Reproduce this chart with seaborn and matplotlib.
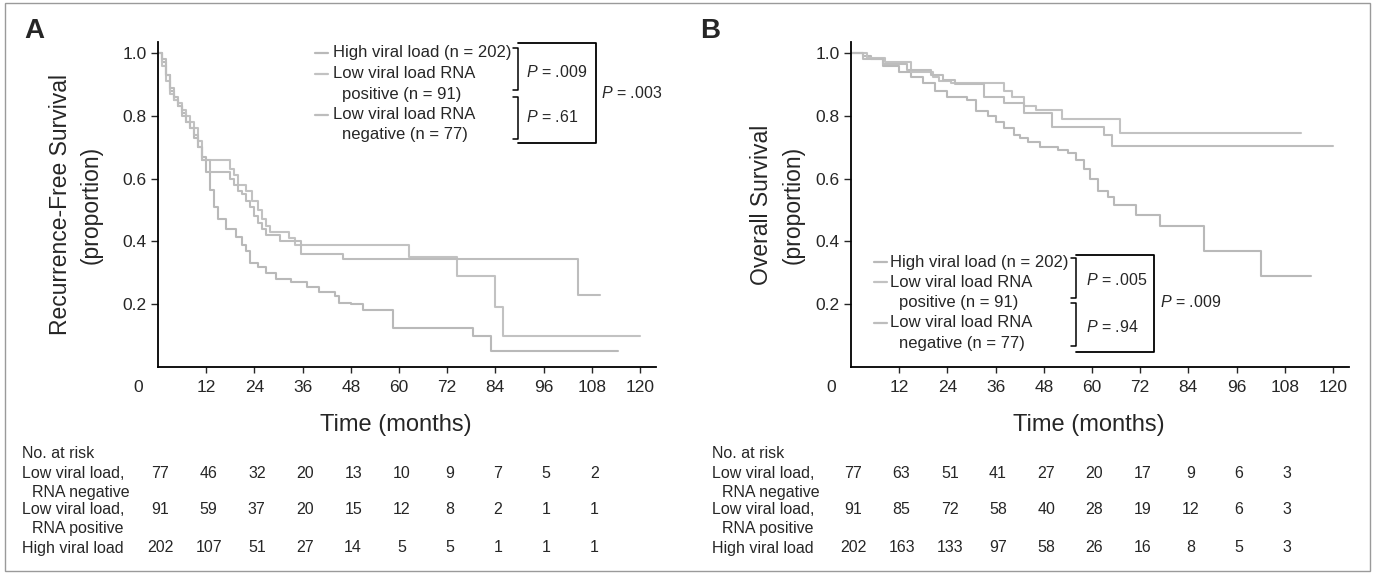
import pandas as pd
import matplotlib.pyplot as plt
import seaborn as sns
from matplotlib.lines import Line2D
from matplotlib.patches import Rectangle
from matplotlib import transforms

# Kaplan-Meier steps: month where the step starts, survival after it
groups = ['High viral load', 'Low viral load RNA positive', 'Low viral load RNA negative']

# A: recurrence-free survival
rfs_high_t = [0, 1, 2, 3, 4, 5, 6, 7, 8, 9, 10, 11, 12, 13, 14, 15, 17, 19.5, 21, 22, 23, 25, 27, 29.5,
              33, 37, 40, 44, 45, 48, 51, 58.5, 78.5, 83, 114.5]
rfs_high_s = [1.0, 0.97, 0.93, 0.88, 0.85, 0.83, 0.81, 0.78, 0.76, 0.73, 0.70, 0.67, 0.62, 0.565, 0.51, 0.47,
              0.44, 0.415, 0.39, 0.37, 0.33, 0.32, 0.30, 0.28, 0.27, 0.255, 0.24, 0.225, 0.205, 0.20, 0.18,
              0.125, 0.10, 0.05, 0.05]
rfs_pos_t = [0, 1, 2, 3, 4, 5, 6, 7, 8, 9, 10, 11, 18, 19, 20, 22, 23.5, 25, 26, 27, 28, 32.5, 34,
             62.5, 74.5, 84, 86, 120]
rfs_pos_s = [1.0, 0.96, 0.91, 0.87, 0.85, 0.84, 0.82, 0.80, 0.78, 0.76, 0.72, 0.66, 0.63, 0.61, 0.58, 0.56,
             0.53, 0.50, 0.47, 0.45, 0.43, 0.41, 0.39, 0.35, 0.29, 0.19, 0.10, 0.10]
rfs_neg_t = [0, 1, 2, 3, 4, 5, 6, 7, 8, 9, 10, 11, 13, 18, 19, 20, 21, 22, 23, 24, 25, 26, 27, 30.5,
             35.5, 46, 104.5, 110]
rfs_neg_s = [1.0, 0.98, 0.93, 0.89, 0.86, 0.83, 0.80, 0.78, 0.76, 0.74, 0.70, 0.66, 0.62, 0.60, 0.58, 0.56,
             0.55, 0.53, 0.51, 0.48, 0.46, 0.44, 0.42, 0.40, 0.36, 0.345, 0.23, 0.23]

# B: overall survival
os_high_t = [0, 3, 5, 8, 12, 15, 18, 21, 24, 29, 31, 34, 36, 38, 40.5, 42, 44, 47, 51.5, 54, 56, 58,
             59.5, 61.5, 64, 65.5, 71, 77, 88, 102, 114.5]
os_high_s = [1.0, 0.99, 0.98, 0.96, 0.94, 0.925, 0.905, 0.88, 0.86, 0.85, 0.815, 0.80, 0.78, 0.76, 0.74,
             0.73, 0.715, 0.70, 0.69, 0.68, 0.66, 0.63, 0.60, 0.56, 0.54, 0.515, 0.485, 0.45, 0.37, 0.29, 0.29]
os_pos_t = [0, 4, 8.5, 15, 20.5, 22, 25, 38, 40, 43, 46, 52.5, 67, 112]
os_pos_s = [1.0, 0.985, 0.97, 0.94, 0.925, 0.91, 0.905, 0.88, 0.86, 0.83, 0.82, 0.79, 0.745, 0.745]
os_neg_t = [0, 3, 8, 14, 20, 23, 26, 33, 38, 43, 50, 63, 65, 120]
os_neg_s = [1.0, 0.98, 0.965, 0.945, 0.93, 0.915, 0.90, 0.86, 0.84, 0.81, 0.765, 0.74, 0.705, 0.705]

key_labels = [['High viral load (n = 202)'],
              ['Low viral load RNA', 'positive (n = 91)'],
              ['Low viral load RNA', 'negative (n = 77)']]
pvals_a = ['.009', '.61', '.003']
pvals_b = ['.005', '.94', '.009']

month_ticks = [12, 24, 36, 48, 60, 72, 84, 96, 108, 120]
surv_ticks = [0.2, 0.4, 0.6, 0.8, 1.0]

# numbers at risk, one column per 12 months
risk_months = [0, 12, 24, 36, 48, 60, 72, 84, 96, 108]
risk_labels = [['Low viral load,', 'RNA negative'], ['Low viral load,', 'RNA positive'], ['High viral load']]
risk_a_neg = [77, 46, 32, 20, 13, 10, 9, 7, 5, 2]
risk_a_pos = [91, 59, 37, 20, 15, 12, 8, 2, 1, 1]
risk_a_high = [202, 107, 51, 27, 14, 5, 5, 1, 1, 1]
risk_b_neg = [77, 63, 51, 41, 27, 20, 17, 9, 6, 3]
risk_b_pos = [91, 85, 72, 58, 40, 28, 19, 12, 6, 3]
risk_b_high = [202, 163, 133, 97, 58, 26, 16, 8, 5, 3]

# layout, in pixels of the 1375x574 picture
W, H = 1375, 574
GRAY = ['#b9b9b9', '#c2c2c2', '#bdbdbd']
NARROW = ['Liberation Sans Narrow', 'Liberation Sans', 'DejaVu Sans']


def fx(x):
    return x / W


def fy(y):
    return 1 - y / H


def curve_frame(times, survs):
    parts = [pd.DataFrame({'month': t, 'surv': s, 'group': g}) for g, t, s in zip(groups, times, survs)]
    return pd.concat(parts, ignore_index=True)


def draw_curves(ax, df, ylabel, label_x):
    sns.lineplot(data=df, x='month', y='surv', hue='group', palette=dict(zip(groups, GRAY)),
                 estimator=None, drawstyle='steps-post', linewidth=1.5, legend=False, ax=ax)
    ax.set_xlim(0, 124)
    ax.set_ylim(0, 1.035)
    ax.set_xticks(month_ticks)
    ax.set_yticks(surv_ticks)
    ax.set_yticklabels([f'{v:.1f}' for v in surv_ticks])
    sns.despine(ax=ax)
    for sp in ax.spines.values():
        sp.set_linewidth(1.3)
        sp.set_color('black')
    ax.tick_params(axis='x', direction='out', length=4, width=1, pad=5, labelsize=12.5)
    ax.tick_params(axis='y', direction='out', length=5, width=1, pad=3, labelsize=12.5)
    for lab in ax.get_xticklabels() + ax.get_yticklabels():
        lab.set_family(NARROW)
    # the 0 sits left of the corner, as in the print
    ax.annotate('0', xy=(0, 0), xycoords='data', xytext=(-20, -20), textcoords='offset pixels',
                ha='center', va='center', fontsize=12.5, family=NARROW)
    ax.set_xlabel('Time (months)', fontsize=17, family=NARROW)
    ax.xaxis.set_label_coords(0.478, -0.178)
    ax.xaxis.label.set_va('center')
    ax.set_ylabel(ylabel, fontsize=16.5, family=NARROW, linespacing=1.45)
    ax.yaxis.set_label_coords(label_x, 0.5)
    ax.yaxis.label.set_va('center')


def line(fig, xs, ys, **kw):
    fig.add_artist(Line2D([fx(v) for v in xs], [fy(v) for v in ys], transform=fig.transFigure, **kw))


def draw_key(fig, hx, tx, indent, y0, step, bx, box, br1, br2, pvals, ppos):
    row = 0
    for labels, col in zip(key_labels, GRAY):
        y = y0 + row * step
        line(fig, [hx, hx + 13], [y, y], color=col, lw=1.6)
        for k, txt in enumerate(labels):
            fig.text(fx(tx + (indent if k else 0)), fy(y + k * step), txt, fontsize=12, va='center')
        row += len(labels)
    for top, bot in (br1, br2):
        line(fig, [bx - 5, bx, bx, bx - 5], [top, top, bot, bot], color='black', lw=1.1)
    line(fig, [bx, box[0], box[0], bx], [box[1], box[1], box[2], box[2]], color='black', lw=1.3)
    for p, (x, y) in zip(pvals, ppos):
        fig.text(fx(x), fy(y), f'$P$ = {p}', fontsize=11.5, va='center')


def draw_risk(fig, ax, x_lab, rows_y, counts):
    # numbers sit under the month ticks of their panel
    trans = transforms.blended_transform_factory(ax.transData, fig.transFigure)
    fig.text(fx(x_lab), fy(rows_y[0]), 'No. at risk', fontsize=11.5, va='center')
    for i, (labels, vals) in enumerate(zip(risk_labels, counts)):
        y = rows_y[2 * i + 1]
        for k, txt in enumerate(labels):
            fig.text(fx(x_lab + (10 if k else 0)), fy(rows_y[2 * i + 1 + k]), txt, fontsize=11.5, va='center')
        for m, v in zip(risk_months, vals):
            ax.text(m + 0.6, fy(y), str(v), transform=trans, fontsize=11.5, ha='center', va='center')


sns.set_style('ticks')
plt.rcParams['font.family'] = ['Liberation Sans', 'DejaVu Sans']
plt.rcParams['mathtext.fontset'] = 'custom'
plt.rcParams['mathtext.rm'] = 'Liberation Sans'
plt.rcParams['mathtext.it'] = 'Liberation Sans:italic'

fig = plt.figure(figsize=(13.75, 5.74), dpi=100)
ax_a = fig.add_axes([fx(158), fy(367), 498 / W, 325 / H])
ax_b = fig.add_axes([fx(851), fy(367), 498 / W, 325 / H])

rfs = curve_frame([rfs_high_t, rfs_pos_t, rfs_neg_t], [rfs_high_s, rfs_pos_s, rfs_neg_s])
ovs = curve_frame([os_high_t, os_pos_t, os_neg_t], [os_high_s, os_pos_s, os_neg_s])
draw_curves(ax_a, rfs, 'Recurrence-Free Survival\n(proportion)', -0.165)
draw_curves(ax_b, ovs, 'Overall Survival\n(proportion)', -0.148)

fig.text(fx(34), fy(31), 'A', fontsize=20, fontweight='bold', ha='center', va='center')
fig.text(fx(710), fy(31), 'B', fontsize=20, fontweight='bold', ha='center', va='center')

draw_key(fig, 315, 333, 9, 53, 20.5, 518, (596, 43, 143), (48, 90), (97, 139),
         pvals_a, [(526, 72), (526, 117), (601, 93)])
draw_key(fig, 874, 890, 9, 262, 20.3, 1076, (1154, 255, 352), (258, 298), (303, 346),
         pvals_b, [(1086, 280), (1086, 327), (1160, 302)])

rows_y = [453, 473, 492, 510, 528, 548]
draw_risk(fig, ax_a, 22, rows_y, [risk_a_neg, risk_a_pos, risk_a_high])
draw_risk(fig, ax_b, 712, rows_y, [risk_b_neg, risk_b_pos, risk_b_high])

fig.add_artist(Rectangle((fx(5), fy(571)), (1370 - 5) / W, (571 - 3) / H, transform=fig.transFigure,
                         fill=False, ec='#9a9a9a', lw=1))

fig.savefig('out.png', dpi=100)
